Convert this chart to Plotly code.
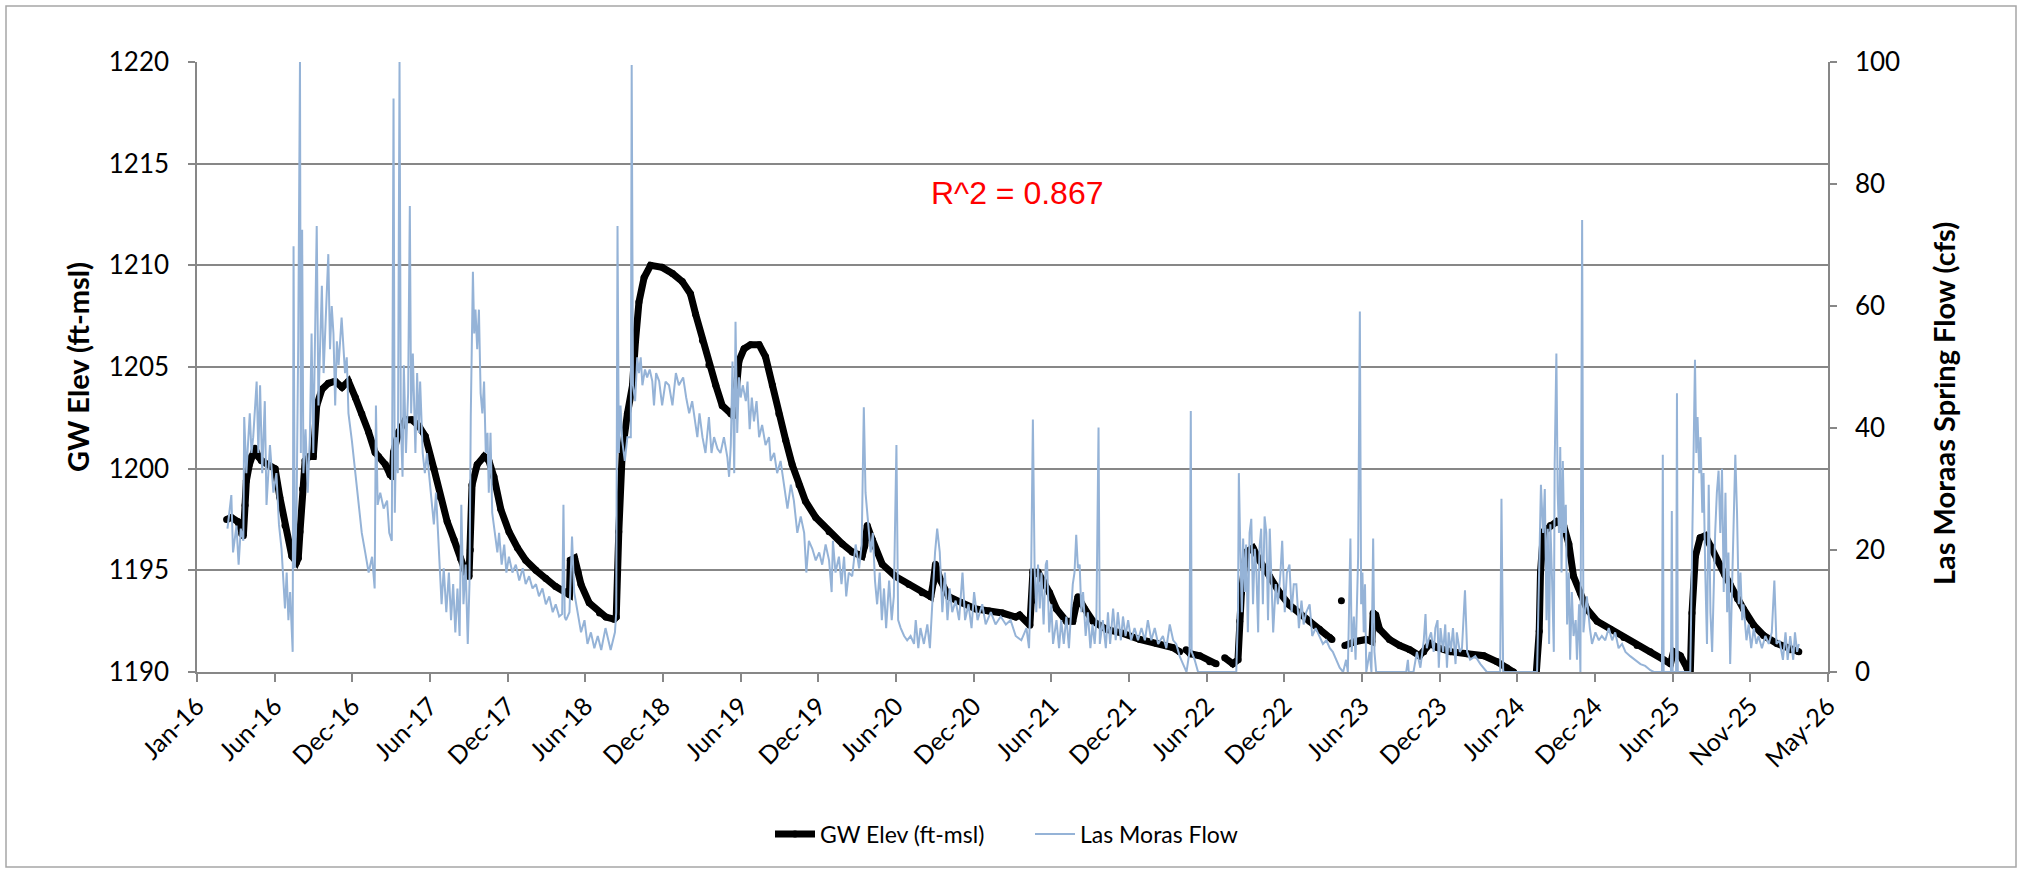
import pandas as pd
import plotly.graph_objects as go

START = pd.Timestamp("2016-01-01")
TICK_STEP_DAYS = 181

x_tick_labels = ["Jan-16", "Jun-16", "Dec-16", "Jun-17", "Dec-17", "Jun-18", "Dec-18",
                 "Jun-19", "Dec-19", "Jun-20", "Dec-20", "Jun-21", "Dec-21", "Jun-22",
                 "Dec-22", "Jun-23", "Dec-23", "Jun-24", "Dec-24", "Jun-25", "Nov-25", "May-26"]

# Groundwater elevation (ft-msl); day offsets from 2016-01-01; None = gap
gw_day = [69, 80, 95, 104, 108, 112, 115, 122, 127, 135, 143, 150, 165, 182, 193, 205, 221, 232,
          236, 240, 246, 252, 262, 271, 279, 291, 306, 322, 338, 353, 369, 384, 400, 415, 423, 439,
          450, 455, 458, 470, 486, 501, 517, 532, 552, 567, 583, 599, 614, 626, 634, 637, 641, 653,
          669, 680, 692, 708, 727, 747, 766, 790, 813, 836, 868, 870, 880, 888, 895, 914, 938, 953,
          972, 977, 983, 991, 1003, 1015, 1022, 1030, 1042, 1057, 1084, 1108, 1131, 1150, 1162,
          1178, 1193, 1209, 1224, 1244, 1250, 1255, 1263, 1275, 1290, 1310, 1325, 1341, 1356, 1372,
          1387, 1403, 1418, 1442, 1473, 1504, 1527, 1550, 1556, 1562, 1574, 1597, 1628, 1659, 1690,
          1710, 1716, 1721, 1733, 1752, 1783, 1815, 1846, 1877, 1908, 1917, 1941, 1946, 1948, 1960,
          1972, 1987, 2003, 2026, 2041, 2049, 2053, 2069, 2088, 2119, 2158, 2197, 2236, 2274, 2290,
          2297, 2305, 2315, 2337, 2360, 2375, 2385, 2395, 2414, 2426, 2430, 2434, 2445, 2461, 2476,
          2500, 2523, 2546, 2570, 2593, 2616, 2640, 2645, 2656, 2667, 2671, 2675, 2700, 2725, 2738,
          2741, 2747, 2756, 2779, 2803, 2826, 2849, 2859, 2874, 2890, 2921, 2960, 2999, 3030, 3053,
          3068, 3080, 3120, 3128, 3131, 3138, 3154, 3169, 3185, 3197, 3208, 3224, 3239, 3263, 3294,
          3325, 3356, 3387, 3418, 3434, 3441, 3457, 3472, 3480, 3484, 3492, 3503, 3515, 3527, 3542,
          3560, 3573, 3590, 3604, 3628, 3651, 3682, 3713, 3733]
gw_val = [1197.5, 1197.6, 1197.4, 1196.8, 1196.7, 1198.2, 1199.4, 1200.2, 1200.6, 1201.0, 1200.6,
          1200.4, 1200.2, 1200.0, 1198.6, 1197.2, 1195.7, 1195.4, 1195.6, 1196.9, 1199.0, 1200.4,
          1200.6, 1200.6, 1203.1, 1203.9, 1204.2, 1204.3, 1204.0, 1204.3, 1203.5, 1202.7, 1201.8,
          1200.8, 1200.6, 1200.2, 1199.7, 1199.6, 1200.8, 1201.8, 1202.4, 1202.4, 1202.1, 1201.6,
          1200.0, 1198.6, 1197.4, 1196.5, 1195.6, 1194.9, 1194.7, 1196.0, 1199.2, 1200.2, 1200.6,
          1200.4, 1199.6, 1198.0, 1196.9, 1196.1, 1195.5, 1195.0, 1194.6, 1194.2, 1193.8, 1195.5,
          1195.6, 1194.9, 1194.3, 1193.4, 1192.9, 1192.7,
          1192.6, 1192.7, 1196.9, 1200.8, 1202.7, 1204.1, 1206.3, 1208.2, 1209.4, 1210.0, 1209.9,
          1209.6, 1209.2, 1208.6, 1207.6, 1206.3, 1205.1, 1204.1, 1203.1, 1202.7, 1202.6, 1203.5,
          1205.3, 1205.9, 1206.1, 1206.1, 1205.5, 1204.1, 1202.7, 1201.4, 1200.2, 1199.2, 1198.4,
          1197.6, 1196.9, 1196.3, 1195.9, 1195.7, 1196.2, 1197.2, 1196.5, 1195.3, 1194.7, 1194.3,
          1193.9, 1193.7, 1194.4, 1195.3, 1194.5, 1193.7, 1193.4, 1193.1, 1193.0, 1192.9, 1192.7,
          1192.8, 1192.3, 1193.5, 1194.9, 1194.9, 1194.5, 1193.9, 1193.1, 1192.5, 1192.5, 1193.3,
          1193.7, 1193.1, 1192.5, 1192.1, 1191.9, 1191.6, 1191.4, 1191.2, 1191.0,
          None, 1191.1, 1190.9, 1190.8, 1190.5, 1190.4, None, 1190.7, 1190.4, 1190.6, 1192.5,
          1193.9, 1195.9, 1196.1, 1195.5, 1194.7, 1193.9, 1193.3, 1192.9, 1192.5, 1192.1, 1191.7,
          1191.6, None, 1193.5, None, 1191.3, 1191.5, 1191.6, 1191.5, 1192.9, 1192.8, 1192.1,
          1191.6, 1191.3, 1191.1, 1190.8, 1191.0, 1191.4, 1191.2, 1191.0, 1190.9, 1190.8, 1190.5,
          1190.2, 1190.0, 1189.6, 1189.6, 1192.0, 1194.9, 1196.9, 1197.2, 1197.4, 1197.2, 1196.3,
          1194.7, 1193.9, 1193.1, 1192.5, 1192.1, 1191.7, 1191.3, 1191.0, 1190.6, 1190.4, 1191.0,
          1190.8, 1190.2, 1189.9, 1192.9, 1195.7, 1196.6, 1196.7, 1196.2, 1195.5, 1194.8, 1194.3,
          1193.6, 1193.1, 1192.3, 1191.8, 1191.4, 1191.1, 1191.0]

# Las Moras spring flow (cfs); day offsets from 2016-01-01
flow_day = [71, 80, 84, 92, 97, 102, 108, 110, 115, 123, 127, 131, 139, 143, 147, 152, 158, 162, 170,
            178, 185, 191, 197, 201, 205, 209, 213, 217, 221, 223, 225, 228, 232, 236, 240, 242, 245,
            248, 253, 258, 263, 267, 271, 275, 279, 283, 287, 291, 295, 298, 302, 306, 310, 314, 318,
            322, 326, 330, 337, 345, 349, 353, 361, 369, 377, 384, 392, 400, 408, 414, 417, 421, 427,
            435, 443, 448, 454, 458, 461, 464, 468, 472, 475, 479, 482, 487, 492, 496, 499, 503, 509,
            513, 517, 520, 526, 531, 536, 544, 552, 557, 564, 570, 575, 581, 587, 592, 597, 602, 607,
            612, 616, 621, 626, 631, 635, 638, 643, 646, 649, 653, 657, 661, 665, 669, 673, 677, 680,
            684, 688, 694, 700, 704, 710, 716, 721, 727, 735, 743, 751, 759, 766, 774, 782, 790, 797,
            805, 813, 821, 829, 836, 844, 851, 854, 857, 860, 868, 874, 879, 887, 895, 903, 910, 918,
            926, 934, 942, 952, 964, 974, 977, 980, 983, 987, 991, 997, 1003, 1011, 1013, 1016, 1021,
            1026, 1030, 1034, 1038, 1044, 1049, 1055, 1061, 1065, 1070, 1077, 1084, 1092, 1100, 1108,
            1116, 1123, 1133, 1140, 1147, 1154, 1161, 1166, 1171, 1178, 1185, 1193, 1199, 1205, 1213,
            1220, 1228, 1236, 1240, 1244, 1248, 1252, 1255, 1259, 1263, 1267, 1272, 1279, 1283, 1288,
            1293, 1298, 1304, 1310, 1317, 1325, 1333, 1337, 1345, 1352, 1360, 1368, 1376, 1384, 1391,
            1399, 1407, 1415, 1420, 1426, 1434, 1442, 1450, 1457, 1465, 1473, 1479, 1482, 1488, 1496,
            1502, 1508, 1513, 1519, 1527, 1535, 1543, 1549, 1554, 1558, 1564, 1570, 1575, 1580, 1585,
            1591, 1596, 1601, 1606, 1613, 1619, 1624, 1630, 1634, 1640, 1648, 1655, 1663, 1671, 1675,
            1681, 1686, 1694, 1702, 1708, 1714, 1720, 1725, 1731, 1737, 1743, 1749, 1754, 1760, 1768,
            1776, 1784, 1790, 1798, 1805, 1811, 1819, 1830, 1838, 1850, 1861, 1873, 1885, 1896, 1908,
            1921, 1933, 1939, 1944, 1948, 1952, 1956, 1960, 1964, 1968, 1973, 1978, 1981, 1986, 1991,
            1995, 2003, 2009, 2014, 2020, 2026, 2032, 2038, 2041, 2045, 2049, 2053, 2057, 2061, 2065,
            2071, 2076, 2082, 2087, 2092, 2096, 2101, 2104, 2111, 2118, 2123, 2128, 2135, 2141, 2146,
            2153, 2158, 2164, 2170, 2177, 2185, 2193, 2201, 2209, 2216, 2224, 2232, 2240, 2251, 2259,
            2267, 2275, 2282, 2290, 2298, 2306, 2313, 2316, 2318, 2325, 2333, 2422, 2426, 2428, 2431,
            2435, 2438, 2442, 2445, 2449, 2453, 2457, 2461, 2465, 2469, 2473, 2476, 2480, 2484, 2488,
            2492, 2496, 2500, 2504, 2508, 2514, 2519, 2525, 2529, 2535, 2540, 2546, 2551, 2556, 2562,
            2568, 2574, 2579, 2585, 2593, 2599, 2607, 2616, 2624, 2632, 2640, 2647, 2655, 2663, 2671,
            2678, 2682, 2688, 2691, 2696, 2700, 2703, 2706, 2710, 2713, 2716, 2719, 2722, 2725, 2733,
            2737, 2741, 2744, 2748, 2818, 2822, 2824, 2835, 2843, 2851, 2859, 2863, 2866, 2870, 2876,
            2882, 2886, 2891, 2894, 2898, 2904, 2909, 2913, 2917, 2922, 2927, 2933, 2936, 2943, 2948,
            2955, 2960, 2967, 2979, 2991, 3006, 3037, 3040, 3044, 3123, 3127, 3132, 3137, 3141, 3145,
            3148, 3151, 3154, 3158, 3162, 3164, 3168, 3171, 3174, 3177, 3180, 3183, 3186, 3190, 3193,
            3197, 3200, 3204, 3208, 3213, 3216, 3221, 3224, 3228, 3231, 3235, 3239, 3246, 3251, 3259,
            3267, 3274, 3282, 3290, 3298, 3305, 3313, 3321, 3329, 3340, 3352, 3364, 3375, 3387, 3395,
            3414, 3416, 3418, 3435, 3437, 3439, 3447, 3449, 3451, 3480, 3484, 3488, 3491, 3494, 3497,
            3501, 3504, 3508, 3511, 3515, 3519, 3523, 3527, 3531, 3535, 3538, 3542, 3546, 3550, 3554,
            3558, 3562, 3566, 3569, 3573, 3577, 3581, 3585, 3589, 3593, 3597, 3601, 3604, 3611, 3616,
            3622, 3628, 3634, 3639, 3647, 3655, 3663, 3670, 3676, 3681, 3688, 3696, 3702, 3707, 3713,
            3720, 3724, 3729, 3733]
flow_val = [23.5, 29, 19.6, 24, 17.6, 23.5, 21.5, 41.8, 32.6, 42.4, 35.9, 38.5, 47.6, 35.9, 47, 32.6,
            44.4, 27.4, 37.2, 29.4, 32.6, 24.2, 20.2, 14.4, 10.4, 16.3, 8.5, 13.1, 5.2, 3.3, 69.8, 17,
            26.1, 54.8, 100, 35.9, 72.5, 32.6, 39.8, 29.4, 38.5, 55.5, 35.9, 51.6, 73.1, 43.7, 54.2,
            63.3, 49, 54.2, 62, 68.5, 52.9, 60, 55.5, 43.7, 54.2, 50.3, 58.1, 49, 51.6, 42.4, 37.9,
            32.6, 27.4, 22.8, 19.6, 16.3, 18.9, 13.7, 43.7, 27.4, 29.4, 26.8, 28.1, 22.8, 21.5, 94,
            26.1, 38.5, 32.6, 100, 41.1, 32, 50.3, 35.9, 45.7, 76.4, 42.4, 52.2, 35.9, 49, 39.2, 47.6,
            35.9, 32.6, 35.9, 29.4, 24.2, 29.4, 19.6, 11.1, 17, 9.8, 16.3, 8.5, 14.4, 6.5, 13.7, 5.9,
            27.4, 11.1, 17.6, 4.6, 14.4, 41.8, 65.6, 55.5, 59.4, 52.9, 59.4, 45.7, 42.4, 47.6, 35.9,
            39.2, 29.4, 39.2, 26.1, 22.8, 19.6, 22.8, 17.6, 20.9, 16.3, 18.9, 16.3, 17.6, 15, 17, 14.4,
            15.7, 13.7, 14.4, 12.4, 13.7, 11.1, 12.4, 9.8, 11.1, 9.1, 9.5, 27.4, 9.0, 8.5, 9.8, 22.2,
            13.1, 9.8, 6.5, 8.5, 4.6, 6.5, 3.9, 5.9, 3.6, 7.2, 3.6, 6.5, 9.8, 73.1, 35.9, 43.7, 37.9,
            34.6, 38.5, 38.5, 99.5, 47, 44.4, 51.6, 49, 51.6, 47, 49.6, 48.3, 49.6, 47.7, 43.7, 49,
            47.7, 43.7, 47.6, 47, 43.7, 49, 47, 48.3, 45, 42.4, 44.4, 41.1, 38.5, 42.4, 38.5, 35.9,
            41.8, 35.9, 38.5, 36.6, 35.9, 38.5, 35.2, 32, 37.2, 50.9, 32.6, 57.4, 39.2, 48.3, 45, 47,
            44.4, 47.6, 39.8, 45, 41.1, 44.4, 38.5, 40.5, 37.2, 38.5, 34.6, 35.9, 32.6, 34.6, 30.7,
            26.8, 30.7, 28.1, 22.8, 25.5, 22.8, 16.3, 21.5, 20.2, 18.3, 19.6, 17.6, 20.9, 18.3, 13.1,
            21.5, 16.3, 18.9, 14.4, 18.9, 12.4, 16.3, 15.7, 20.9, 17, 20.9, 43.4, 29.4, 24.8, 19.6,
            22.8, 15, 11.1, 16.3, 8.5, 13.7, 7.2, 15, 8.5, 12.4, 37.2, 8.5, 7.2, 5.9, 5.2, 5.9, 4.6,
            8.5, 3.9, 7.2, 4.6, 7.8, 3.9, 12.4, 19.6, 23.5, 19.6, 9.8, 16.3, 8.5, 13.7, 9.8, 11.7, 8.5,
            16.3, 8.5, 11.1, 7.2, 13.1, 8.5, 11.1, 7.8, 9.8, 7.8, 9.1, 7.8, 8.5, 5.9,
            5.2, 7.2, 3.9, 16.3, 41.4, 17, 9.8, 17.6, 10.4, 16.3, 7.8, 17.6, 18.3, 6.5, 11.1, 4.6, 8.5,
            3.9, 8.5, 4.6, 9.1, 3.9, 11.1, 14.4, 16.3, 22.5, 17, 17.6, 9.8, 13.1, 5.9, 9.8, 3.9, 7.8,
            4.6, 8.5, 40.1, 4.6, 8.5, 3.9, 9.8, 4.6, 10.4, 5.2, 9.8, 5.2, 9.1, 5.9, 8.5, 5.2, 7.2, 5.2,
            7.2, 5.2, 8.5, 5.2, 7.2, 4.6, 5.9, 3.9, 7.8, 5.2, 4.6, 2.6, 1.3, 0, 3.3, 42.8, 3.3, 2, 0,
            0, 9.8, 32.6, 21.5, 9.8, 21.9, 13.1, 20.9, 6.5, 22.8, 25.1, 11.1, 20.2, 16.3, 6.5, 20.2,
            23.5, 11.1, 25.5, 22.8, 8.5, 23.5, 16.3, 6.5, 14.4, 11.1, 16.3, 21.5, 9.8, 16.3, 17.6, 9.8,
            14.4, 14.4, 7.2, 11.7, 7.8, 9.8, 11.1, 5.9, 7.2, 5.9, 4.6, 5.2, 3.9, 3.3, 2, 0.7, 0, 2, 0,
            21.9, 3.3, 9.1, 2, 11.1, 18.9, 59.1, 11.1, 16.3, 6.5, 14.4, 0, 3.3, 0, 21.9, 3.3, 0, 0, 2,
            0, 0, 3.3, 0.7, 5.2, 9.5, 3.9, 5.2, 6.5, 3.3, 7.2, 8.5, 0.7, 7.2, 3.3, 7.8, 0.7, 6.5, 3.3,
            7.2, 1.3, 6.5, 3.3, 3.9, 13.4, 3.3, 2, 2.6, 1.3, 0, 0, 28.4, 0, 0, 16.3, 30.7, 22.8, 30,
            8.5, 23.5, 4.6, 24.2, 15, 3.3, 33.9, 52.2, 29.4, 22.8, 36.9, 16.3, 34.6, 22.8, 27.4, 7.8,
            16.3, 2, 13.1, 5.9, 8.5, 2, 11.1, 0, 74.1, 6.5, 9.8, 12.4, 7.2, 4.6, 6.5, 5.2, 5.9, 5.2,
            7.2, 5.2, 6.5, 3.9, 4.6, 3.3, 2.6, 2, 1.3, 1, 0.3, 0, 0, 35.6, 0, 0, 26.4, 0, 0, 45.7, 0,
            0, 16.3, 37.2, 51.2, 35.9, 41.8, 32.6, 38.5, 26.1, 32.6, 16.3, 4.6, 30.7, 9.8, 3.3, 16.3,
            22.8, 29.4, 33, 22.8, 33.3, 13.1, 29.4, 9.8, 19.6, 1.3, 13.1, 22.8, 35.6, 26.1, 11.1, 16.3,
            8.5, 11.1, 5.2, 7.8, 3.9, 7.2, 4.6, 5.9, 3.9, 5.9, 4.6, 6.5, 15, 4.6, 5.2, 2, 6.5, 2, 5.9,
            2, 6.5, 3.3, 4.6]

r2_text = "R^2 = 0.867"


def to_dates(days):
    return [START + pd.Timedelta(days=int(d)) for d in days]


tick_vals = [START + pd.Timedelta(days=TICK_STEP_DAYS * k) for k in range(len(x_tick_labels))]

GRID = "#878787"
FONT = "Lato"

fig = go.Figure()
fig.add_trace(go.Scatter(
    x=to_dates(gw_day), y=gw_val, name="GW Elev (ft-msl)",
    mode="lines+markers", connectgaps=False,
    line=dict(color="black", width=7), marker=dict(color="black", size=7),
))
fig.add_trace(go.Scatter(
    x=to_dates(flow_day), y=flow_val, name="Las Moras Flow", yaxis="y2",
    mode="lines", line=dict(color="#95B3D7", width=2),
))

W, H = 2023, 874
L, R, T, B = 197, 1828, 62, 672
pw, ph = R - L, B - T

fig.update_layout(
    template="none",
    width=W, height=H,
    margin=dict(l=L, r=W - R, t=T, b=H - B, autoexpand=False),
    paper_bgcolor="white", plot_bgcolor="white",
    font=dict(family=FONT, size=25, color="black"),
    showlegend=True,
    legend=dict(orientation="h", x=(770 - L) / pw, xanchor="left", y=(B - 834) / ph,
                yanchor="middle", font=dict(family=FONT, size=23, color="black"),
                bgcolor="rgba(0,0,0,0)", itemwidth=40, entrywidth=205, entrywidthmode="pixels"),
    xaxis=dict(
        type="date", range=[START, tick_vals[-1]],
        tickmode="array", tickvals=tick_vals, ticktext=x_tick_labels,
        tickangle=-45, ticks="outside", ticklen=8, tickwidth=1.5, tickcolor=GRID,
        showline=True, linecolor=GRID, linewidth=1.5, showgrid=False, zeroline=False,
        tickfont=dict(family=FONT, size=25, color="black"), automargin=False,
    ),
    yaxis=dict(
        range=[1190, 1220], tick0=1190, dtick=5,
        ticks="outside", ticklen=7, tickwidth=1.5, tickcolor=GRID,
        showline=True, linecolor=GRID, linewidth=1.5,
        showgrid=True, gridcolor=GRID, gridwidth=1.5, zeroline=False,
        tickfont=dict(family=FONT, size=26, color="black"), ticklabelstandoff=14,
        title=dict(text="<b>GW Elev (ft-msl)</b>", font=dict(family=FONT, size=29, color="black"),
                   standoff=11),
        automargin=False,
    ),
    yaxis2=dict(
        overlaying="y", side="right", range=[0, 100], tick0=0, dtick=20,
        ticks="outside", ticklen=7, tickwidth=1.5, tickcolor=GRID,
        showline=True, linecolor=GRID, linewidth=1.5, showgrid=False, zeroline=False,
        tickfont=dict(family=FONT, size=26, color="black"), ticklabelstandoff=13,
        automargin=False,
    ),
    annotations=[
        dict(text=r2_text, xref="paper", yref="paper",
             x=(1017 - L) / pw, y=(B - 193) / ph, xanchor="center", yanchor="middle",
             showarrow=False, font=dict(family="Liberation Sans", size=32, color="red")),
        dict(text="<b>Las Moraas Spring Flow (cfs)</b>", xref="paper", yref="paper",
             x=(1943 - L) / pw, y=(B - 404) / ph, xanchor="center", yanchor="middle",
             textangle=-90, showarrow=False,
             font=dict(family=FONT, size=29, color="black")),
    ],
    shapes=[dict(
        type="rect", xref="paper", yref="paper", layer="below",
        x0=(6 - L) / pw, x1=(2016 - L) / pw, y0=(B - 867) / ph, y1=(B - 6) / ph,
        line=dict(color="#A6A6A6", width=1.5), fillcolor="rgba(0,0,0,0)",
    )],
)

fig.write_html("out.html", config={"displayModeBar": False},
               post_script="document.body.style.margin='0px';")
